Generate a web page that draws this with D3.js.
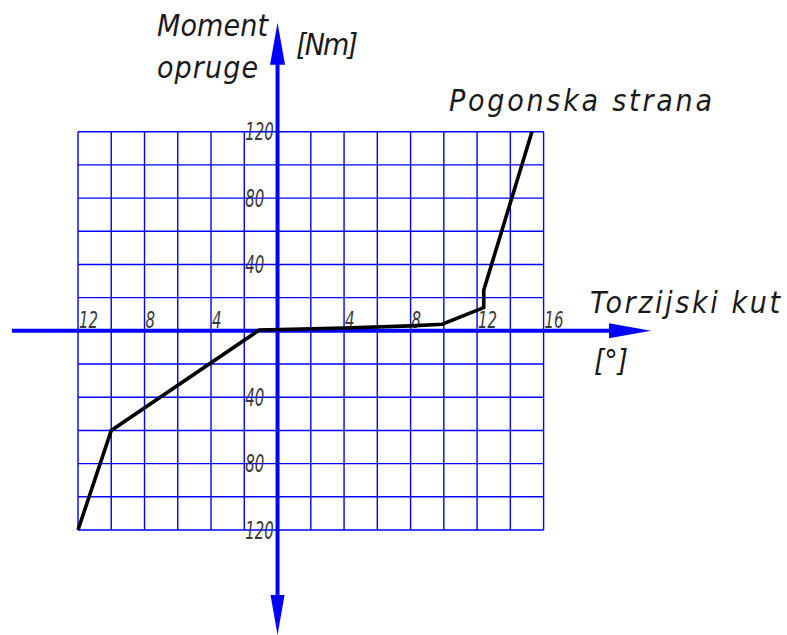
<!DOCTYPE html>
<html>
<head>
<meta charset="utf-8">
<script src="https://cdn.jsdelivr.net/npm/d3@7"></script>
<style>
  html, body { margin: 0; padding: 0; background: #fff; }
  svg { display: block; }
  text { font-family: 'Liberation Sans Narrow', 'DejaVu Sans Condensed', 'Liberation Sans', sans-serif; font-style: italic; }
</style>
</head>
<body>
<div id="chart"></div>
<script>
'use strict'

// torsion angle [deg] vs spring moment [Nm]
const angle = [-12, -10, -1.1, 4, 8, 9.9, 12.4, 12.4, 15.3]
const moment = [-120, -60, 0.5, 1.7, 3, 4, 14, 24.5, 120]

const xTicks = [-12, -8, -4, 4, 8, 12, 16]
const yTicks = [120, 80, 40, -40, -80, -120]
const xGridValues = [-12, -10, -8, -6, -4, -2, 0, 2, 4, 6, 8, 10, 12, 14, 16]
const yGridValues = [-120, -100, -80, -60, -40, -20, 0, 20, 40, 60, 80, 100, 120]

const width = 787
const height = 635
const blue = '#0000ff'

const svg = d3.select('#chart').append('svg')
  .attr('width', width)
  .attr('height', height)

const x = d3.scaleLinear().domain([-12, 16]).range([78, 543.6])
const y = d3.scaleLinear().domain([-120, 120]).range([530, 131.7])

// grid
const grid = svg.append('g').attr('class', 'grid')
grid.selectAll('.vline')
  .data(xGridValues)
  .enter().append('line')
  .attr('class', 'vline')
  .attr('x1', function (d) { return x(d) })
  .attr('x2', function (d) { return x(d) })
  .attr('y1', y(120))
  .attr('y2', y(-120))
  .attr('stroke', blue)
  .attr('stroke-width', 1.4)
grid.selectAll('.hline')
  .data(yGridValues)
  .enter().append('line')
  .attr('class', 'hline')
  .attr('x1', x(-12))
  .attr('x2', x(16))
  .attr('y1', function (d) { return y(d) })
  .attr('y2', function (d) { return y(d) })
  .attr('stroke', blue)
  .attr('stroke-width', 1.4)

// tick labels
const tickColor = '#3a3a3a'
svg.selectAll('.xlabel')
  .data(xTicks)
  .enter().append('text')
  .attr('class', 'xlabel')
  .attr('x', function (d) { return x(d) + 1 })
  .attr('y', y(0) - 3)
  .attr('font-size', 23)
  .attr('fill', tickColor)
  .attr('textLength', function (d) { return String(Math.abs(d)).length * 9.5 })
  .attr('lengthAdjust', 'spacingAndGlyphs')
  .text(function (d) { return Math.abs(d) })

svg.selectAll('.ylabel')
  .data(yTicks)
  .enter().append('text')
  .attr('class', 'ylabel')
  .attr('x', x(-2) + 1)
  .attr('y', function (d) { return y(d) + 8.5 })
  .attr('font-size', 24)
  .attr('fill', tickColor)
  .attr('textLength', function (d) { return String(Math.abs(d)).length * 9.5 })
  .attr('lengthAdjust', 'spacingAndGlyphs')
  .text(function (d) { return Math.abs(d) })

// axes with arrows
const axisG = svg.append('g').attr('class', 'axes')
const xEnd = 651
const yEnd = 22.7
axisG.append('line')
  .attr('x1', 12).attr('x2', xEnd - 30)
  .attr('y1', y(0)).attr('y2', y(0))
  .attr('stroke', blue).attr('stroke-width', 4)
axisG.append('path')
  .attr('d', 'M' + (xEnd - 42) + ',' + (y(0) - 7.5) + 'L' + xEnd + ',' + y(0) + 'L' + (xEnd - 42) + ',' + (y(0) + 7.5) + 'Z')
  .attr('fill', blue)
axisG.append('line')
  .attr('x1', x(0)).attr('x2', x(0))
  .attr('y1', yEnd + 30).attr('y2', height - 30)
  .attr('stroke', blue).attr('stroke-width', 4)
axisG.append('path')
  .attr('d', 'M' + (x(0) - 7.5) + ',' + (yEnd + 42) + 'L' + x(0) + ',' + yEnd + 'L' + (x(0) + 7.5) + ',' + (yEnd + 42) + 'Z')
  .attr('fill', blue)
axisG.append('path')
  .attr('d', 'M' + (x(0) - 7) + ',' + (height - 40) + 'L' + x(0) + ',' + height + 'L' + (x(0) + 7) + ',' + (height - 40) + 'Z')
  .attr('fill', blue)

// characteristic curve
const points = angle.map(function (a, i) { return [a, moment[i]] })
const line = d3.line()
  .x(function (d) { return x(d[0]) })
  .y(function (d) { return y(d[1]) })
svg.append('path')
  .datum(points)
  .attr('d', line)
  .attr('fill', 'none')
  .attr('stroke', '#000')
  .attr('stroke-width', 3.6)
  .attr('stroke-linejoin', 'miter')

// titles
const titles = [
  {text: 'Moment', x: 157, y: 36, len: 111},
  {text: 'opruge', x: 157, y: 78, len: 101},
  {text: '[Nm]', x: 296, y: 55, len: 62},
  {text: 'Pogonska strana', x: 449, y: 111, len: 263},
  {text: 'Torzijski kut', x: 590, y: 313, len: 190},
  {text: '[°]', x: 594, y: 371, len: 34}
]
svg.selectAll('.title')
  .data(titles)
  .enter().append('text')
  .attr('class', 'title')
  .attr('x', function (d) { return d.x })
  .attr('y', function (d) { return d.y })
  .attr('font-size', 30)
  .attr('fill', '#1a1a1a')
  .attr('textLength', function (d) { return d.len })
  .attr('lengthAdjust', 'spacing')
  .text(function (d) { return d.text })
</script>
</body>
</html>
